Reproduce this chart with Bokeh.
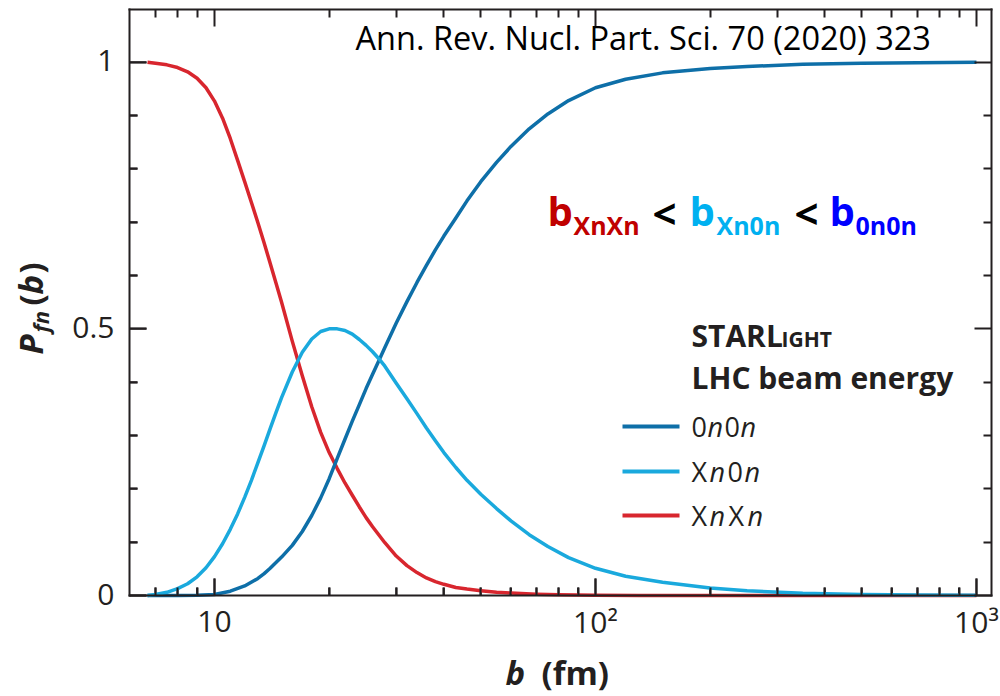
import math
from bokeh.plotting import figure
from bokeh.models import FixedTicker, LogAxis, LinearAxis, Label, Range1d
from bokeh.embed import file_html
from bokeh.resources import INLINE

# ---------------- data ----------------
b_xnxn = [6.67, 7.0, 7.5, 8.0, 8.5, 9.0, 9.5, 10.0, 10.5, 11.0, 11.5, 12.0, 12.5, 13.0, 13.5,
          14.0, 14.5, 15.0, 16.0, 17.0, 18.0, 19.0, 20.0, 21.0, 22.0, 23.0, 24.0, 25.0, 26.0,
          28.0, 30.0, 32.0, 34.0, 36.0, 38.0, 40.0, 43.0, 46.0, 50.0, 55.0, 60.0, 70.0, 80.0,
          100.0, 130.0, 200.0, 1000.0]
p_xnxn = [1.000, 0.998, 0.995, 0.990, 0.982, 0.970, 0.952, 0.927, 0.895, 0.857, 0.816, 0.776,
          0.737, 0.699, 0.661, 0.623, 0.586, 0.550, 0.477, 0.412, 0.354, 0.306, 0.268, 0.238,
          0.211, 0.188, 0.166, 0.146, 0.129, 0.099, 0.074, 0.056, 0.043, 0.033, 0.026, 0.021,
          0.015, 0.012, 0.009, 0.006, 0.0045, 0.0025, 0.0015, 0.0006, 0.0002, 0.0, 0.0]

b_0n0n = [6.67, 8.0, 9.0, 10.0, 11.0, 12.0, 13.0, 13.5, 14.0, 15.0, 16.0, 17.0, 18.0, 19.0,
          20.0, 21.0, 22.0, 23.0, 24.0, 25.0, 26.0, 27.0, 28.0, 30.0, 32.0, 34.0, 36.0, 38.0,
          40.0, 43.0, 46.0, 50.0, 55.0, 60.0, 67.0, 75.0, 85.0, 100.0, 120.0, 150.0, 200.0,
          250.0, 350.0, 500.0, 700.0, 1000.0]
p_0n0n = [0.0, 0.0, 0.0005, 0.002, 0.008, 0.018, 0.032, 0.041, 0.051, 0.072, 0.094, 0.120,
          0.150, 0.183, 0.219, 0.257, 0.293, 0.327, 0.358, 0.388, 0.415, 0.440, 0.465, 0.511,
          0.551, 0.587, 0.619, 0.648, 0.674, 0.708, 0.740, 0.776, 0.812, 0.842, 0.875, 0.903,
          0.928, 0.952, 0.968, 0.980, 0.988, 0.992, 0.996, 0.998, 0.999, 1.0]

b_xn0n = [6.67, 7.0, 7.5, 8.0, 8.5, 9.0, 9.5, 10.0, 10.5, 11.0, 11.5, 12.0, 12.5, 13.0, 13.5,
          14.0, 14.5, 15.0, 16.0, 17.0, 18.0, 19.0, 20.0, 21.0, 22.0, 23.0, 24.0, 25.0, 26.0,
          27.0, 28.0, 30.0, 32.0, 34.0, 36.0, 38.0, 40.0, 43.0, 46.0, 50.0, 55.0, 60.0, 67.0,
          75.0, 85.0, 100.0, 120.0, 150.0, 200.0, 250.0, 350.0, 500.0, 700.0, 1000.0]
p_xn0n = [0.0, 0.002, 0.006, 0.013, 0.022, 0.035, 0.052, 0.073, 0.097, 0.124, 0.153, 0.184,
          0.216, 0.249, 0.281, 0.313, 0.343, 0.371, 0.419, 0.456, 0.481, 0.495, 0.500, 0.500,
          0.497, 0.490, 0.480, 0.469, 0.457, 0.444, 0.430, 0.398, 0.369, 0.341, 0.314, 0.290,
          0.268, 0.240, 0.216, 0.190, 0.163, 0.140, 0.114, 0.092, 0.071, 0.051, 0.036, 0.025,
          0.014, 0.009, 0.004, 0.002, 0.001, 0.0005]

x_major = [10, 100, 1000]
x_major_labels = ["10", "10\u00b2", "10\u00b3"]
x_minor = [7, 8, 9, 20, 30, 40, 50, 60, 70, 80, 90, 200, 300, 400, 500, 600, 700, 800, 900]
y_major = [0, 0.5, 1]
y_major_labels = ["0", "0.5", "1"]
y_minor = [0.1, 0.2, 0.3, 0.4, 0.6, 0.7, 0.8, 0.9]

# ---------------- layout ----------------
W, H = 1000, 696
L, R, T, B = 129, 991, 9, 595          # plot box in canvas pixels
LOG0, LOG1 = 0.7769, 3.0395            # log10(b) at the box's left / right edge
Y0, Y1 = 0.0, 1.0988                   # P at the box's bottom / top edge
SX = (LOG1 - LOG0) / (R - L)
SY = (Y1 - Y0) / (B - T)
LOGA = LOG0 - L * SX
YB = Y1 + T * SY
MAJ, MIN = 17, 8                        # tick lengths, px

def bx(px):
    return 10 ** (LOGA + px * SX)

def by(py):
    return YB - py * SY

def px_of_y(v):
    return (YB - v) / SY

INK = "#231f20"
C_0n0n = "#0e6fa8"
C_xn0n = "#1aa9dd"
C_xnxn = "#d8262e"

p = figure(width=W, height=H, x_axis_type="log", x_axis_location=None, y_axis_location=None,
           x_range=Range1d(bx(0), bx(W)), y_range=Range1d(by(H), by(0)),
           output_backend="svg", toolbar_location=None, min_border=0)
p.background_fill_color = "white"
p.border_fill_color = "white"
p.outline_line_color = None
p.xgrid.visible = False
p.ygrid.visible = False

xb = (bx(L - 1), bx(R + 1))
yb = (by(B + 1), by(T - 1))

def tick_axis(ax, inward_is_out=False):
    ax.axis_line_color = INK
    ax.axis_line_width = 2
    if inward_is_out:
        ax.major_tick_in, ax.major_tick_out = 0, MAJ
        ax.minor_tick_in, ax.minor_tick_out = 0, MIN
    else:
        ax.major_tick_in, ax.major_tick_out = MAJ, 0
        ax.minor_tick_in, ax.minor_tick_out = MIN, 0
    ax.major_tick_line_color = INK
    ax.minor_tick_line_color = INK
    ax.major_tick_line_width = 2
    ax.minor_tick_line_width = 2
    ax.major_label_text_font_size = "1px"
    ax.major_label_text_alpha = 0.0
    ax.major_label_standoff = 0

# inward tick marks on the bottom and left edges, at the tick values
xt = x_major + x_minor
p.segment(x0=xt, x1=xt, y0=[Y0] * len(xt),
          y1=[by(B - MAJ)] * len(x_major) + [by(B - MIN)] * len(x_minor),
          line_color=INK, line_width=2)
yt = y_major + y_minor
p.segment(x0=[10 ** LOG0] * len(yt),
          x1=[bx(L + MAJ)] * len(y_major) + [bx(L + MIN)] * len(y_minor),
          y0=yt, y1=yt, line_color=INK, line_width=2)

# frame lines and ticks: x axes hung from the top side, y axes from the right side
for loc, outward in ((Y1, False), (Y0, True)):
    ax = LogAxis(ticker=FixedTicker(ticks=x_major, minor_ticks=x_minor),
                 fixed_location=loc, bounds=xb)
    tick_axis(ax, outward)
    p.add_layout(ax, "above")
for loc, outward in ((10 ** LOG1, False), (10 ** LOG0, True)):
    ax = LinearAxis(ticker=FixedTicker(ticks=y_major, minor_ticks=y_minor),
                    fixed_location=loc, bounds=yb)
    tick_axis(ax, outward)
    p.add_layout(ax, "right")

# ---------------- curves ----------------
p.line(b_xnxn, p_xnxn, line_color=C_xnxn, line_width=3.5, line_join="round")
p.line(b_0n0n, p_0n0n, line_color=C_0n0n, line_width=3.5, line_join="round")
p.line(b_xn0n, p_xn0n, line_color=C_xn0n, line_width=3.5, line_join="round")

# ---------------- texts ----------------
SHIFT = 0.39   # baseline correction, in em

def lab(text, px, base, size, style="normal", color=INK, rotated=False, align="left",
        font="Open Sans", xdata=None):
    if rotated:
        xx, yy = base - SHIFT * size, px
    else:
        xx, yy = px, base - SHIFT * size
    x = xdata if xdata is not None else bx(xx)
    p.add_layout(Label(x=x, y=by(yy), text=text, text_font=font,
                       text_font_size=f"{size}px", text_font_style=style, text_color=color,
                       text_align=align, text_baseline="alphabetic",
                       angle=(math.pi / 2 if rotated else 0.0)))

# tick labels at the tick values
for v, t in zip(x_major, x_major_labels):
    lab(t, 0, 633, 30, align="center", xdata=v)
for v, t in zip(y_major, y_major_labels):
    lab(t, 114, px_of_y(v) + 10.5, 30, align="right")

lab("Ann. Rev. Nucl. Part. Sci. 70 (2020) 323", 355, 49.5, 32.5, color="black")

lab("b", 505, 685, 33, "bold italic")
lab("(fm)", 541, 685, 33, "bold")

lab("P", 354, 43, 33, "bold italic", rotated=True)
lab("fn", 332, 48, 22, "bold italic", rotated=True)
lab("(", 305, 43, 33, "bold", rotated=True)
lab("b", 294, 43, 33, "bold italic", rotated=True)
lab(")", 273, 43, 33, "bold", rotated=True)

RED_T, CYAN_T, BLUE_T = "#c00000", "#00b0f0", "#0000ff"
lab("b", 547, 226, 40, "bold", RED_T)
lab("XnXn", 573, 234, 25, "bold", RED_T)
lab("<", 652, 228, 42, "bold", "black")
lab("b", 689, 226, 40, "bold", CYAN_T)
lab("Xn0n", 716, 234, 25, "bold", CYAN_T)
lab("<", 794, 228, 42, "bold", "black")
lab("b", 829, 226, 40, "bold", BLUE_T)
lab("0n0n", 855, 234, 25, "bold", BLUE_T)

lab("STARL", 691, 347, 30, "bold")
lab("IGHT", 781, 347, 21, "bold")
lab("LHC beam energy", 691, 389, 30, "bold")

leg_y = [426, 471, 515]
leg_cols = [C_0n0n, C_xn0n, C_xnxn]
for yy, cc in zip(leg_y, leg_cols):
    p.line([bx(622), bx(679)], [by(yy), by(yy)], line_color=cc, line_width=4)

entries = [
    [("0", 691, "normal"), ("n", 707, "italic"), ("0", 724, "normal"), ("n", 740, "italic")],
    [("X", 691, "normal"), ("n", 709, "italic"), ("0", 727, "normal"), ("n", 744, "italic")],
    [("X", 691, "normal"), ("n", 709, "italic"), ("X", 728, "normal"), ("n", 747, "italic")],
]
for yy, ent in zip(leg_y, entries):
    for ch, xx, st in ent:
        lab(ch, xx, yy + 11, 27, st)

open("out.html", "w").write(file_html(p, INLINE))
